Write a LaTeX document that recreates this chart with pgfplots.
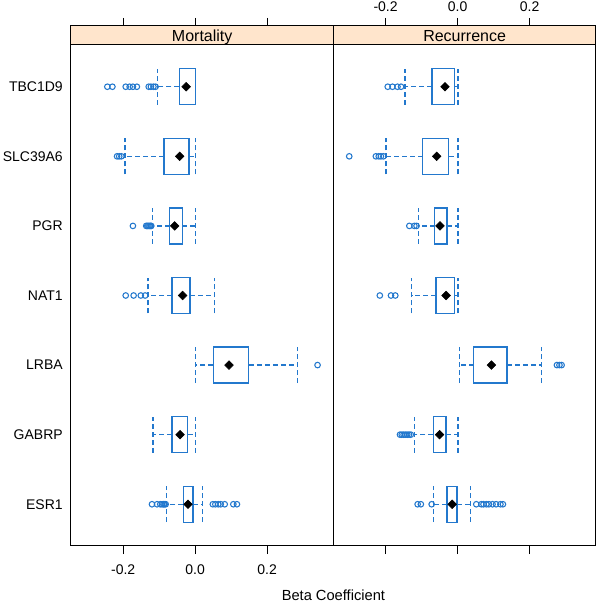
\documentclass[border=0pt]{standalone}
\usepackage{pgfplots}
\pgfplotsset{compat=1.18}
\usepgfplotslibrary{statistics}
\usepackage{fontspec}
\setmainfont{Liberation Sans}
\definecolor{bw}{RGB}{35,120,205}
\definecolor{stripcol}{RGB}{255,229,204}
\pgfplotsset{
  panel/.style={
    scale only axis, width=196.8pt, height=390pt,
    xmin=-0.345, xmax=0.384, ymin=0.4, ymax=7.873,
    axis on top,
    axis line style={line width=0.75pt},
    tick style={black, line width=0.75pt},
    major tick length=6pt, tick align=outside,
    xtick={-0.2,0,0.2}, xticklabels={-0.2,0.0,0.2},
    xtick pos=both,
    ticklabel style={font=\fontsize{10.5}{12}\selectfont},
    boxplot/draw direction=x,
    boxplot/box extend=0.517,
    boxplot/whisker extend=0.517,
    boxplot/draw/median/.code={},
    boxplot/every box/.style={draw=bw, line width=1pt},
    boxplot/every whisker/.style={draw=bw, line width=0.9pt, dash pattern=on 3.75pt off 2.25pt},
  },
  bp/.style={bw, mark=o, mark size=2.1pt, mark options={solid, line width=0.8pt, draw=bw}, line width=0.9pt},
  med/.style={only marks, mark=square*, mark size=2.3pt, mark options={rotate=45, fill=black, draw=black}},
}
\begin{document}
\begin{tikzpicture}
\useasboundingbox (-53.25pt,-43.5pt) rectangle (396.75pt,409.5pt);
% ---------------- Mortality ----------------
\begin{axis}[panel, name=left, at={(0pt,0pt)}, anchor=south west,
  xticklabel pos=lower, xticklabel style={yshift=-4.75pt},
  ytick={1,2,3,4,5,6,7},
  yticklabels={ESR1,GABRP,LRBA,NAT1,PGR,SLC39A6,TBC1D9},
  ytick pos=left, ytick style={draw=none},
  yticklabel style={inner sep=0pt}]
\fill[stripcol] (rel axis cs:0,0.96347) rectangle (rel axis cs:1,1);
\draw[line width=0.75pt] (rel axis cs:0,0.96347) -- (rel axis cs:1,0.96347);
\node[anchor=base, font=\fontsize{12}{14}\selectfont] at (rel axis cs:0.5,0.9711) {Mortality};
% TBC1D9
\addplot[bp, boxplot prepared={lower whisker=-0.105, lower quartile=-0.044, median=-0.025, upper quartile=0.0, upper whisker=0.002, draw position=7}]
  coordinates {(0,-0.244) (0,-0.230) (0,-0.193) (0,-0.182) (0,-0.173) (0,-0.162) (0,-0.129) (0,-0.123) (0,-0.116) (0,-0.110)};
% SLC39A6
\addplot[bp, boxplot prepared={lower whisker=-0.195, lower quartile=-0.087, median=-0.043, upper quartile=-0.017, upper whisker=0.001, draw position=6}]
  coordinates {(0,-0.217) (0,-0.211) (0,-0.205)};
% PGR
\addplot[bp, boxplot prepared={lower whisker=-0.119, lower quartile=-0.071, median=-0.057, upper quartile=-0.036, upper whisker=0.001, draw position=5}]
  coordinates {(0,-0.173) (0,-0.136) (0,-0.133) (0,-0.130) (0,-0.127) (0,-0.124) (0,-0.122)};
% NAT1
\addplot[bp, boxplot prepared={lower whisker=-0.131, lower quartile=-0.064, median=-0.035, upper quartile=-0.014, upper whisker=0.054, draw position=4}]
  coordinates {(0,-0.193) (0,-0.171) (0,-0.151) (0,-0.139)};
% LRBA
\addplot[bp, boxplot prepared={lower whisker=0.001, lower quartile=0.050, median=0.094, upper quartile=0.149, upper whisker=0.284, draw position=3}]
  coordinates {(0,0.340)};
% GABRP
\addplot[bp, boxplot prepared={lower whisker=-0.117, lower quartile=-0.064, median=-0.042, upper quartile=-0.021, upper whisker=0.0, draw position=2}]
  coordinates {};
% ESR1
\addplot[bp, boxplot prepared={lower whisker=-0.079, lower quartile=-0.033, median=-0.020, upper quartile=-0.006, upper whisker=0.020, draw position=1}]
  coordinates {(0,-0.120) (0,-0.106) (0,-0.097) (0,-0.092) (0,-0.088) (0,-0.085) (0,-0.082)
               (0,0.049) (0,0.056) (0,0.064) (0,0.071) (0,0.082) (0,0.106) (0,0.116)};
% medians
\addplot[med] coordinates {(-0.025,7) (-0.043,6) (-0.057,5) (-0.035,4) (0.094,3) (-0.042,2) (-0.020,1)};
\end{axis}
% ---------------- Recurrence ----------------
\begin{axis}[panel, name=right, at={(196.8pt,0pt)}, anchor=south west,
  xticklabel pos=upper, xticklabel style={yshift=1.2pt},
  ytick=\empty]
\fill[stripcol] (rel axis cs:0,0.96347) rectangle (rel axis cs:1,1);
\draw[line width=0.75pt] (rel axis cs:0,0.96347) -- (rel axis cs:1,0.96347);
\node[anchor=base, font=\fontsize{12}{14}\selectfont] at (rel axis cs:0.5,0.9711) {Recurrence};
% TBC1D9
\addplot[bp, boxplot prepared={lower whisker=-0.146, lower quartile=-0.071, median=-0.035, upper quartile=-0.009, upper whisker=0.001, draw position=7}]
  coordinates {(0,-0.194) (0,-0.181) (0,-0.167) (0,-0.157)};
% SLC39A6
\addplot[bp, boxplot prepared={lower whisker=-0.199, lower quartile=-0.097, median=-0.058, upper quartile=-0.025, upper whisker=0.001, draw position=6}]
  coordinates {(0,-0.301) (0,-0.227) (0,-0.219) (0,-0.213) (0,-0.206)};
% PGR
\addplot[bp, boxplot prepared={lower whisker=-0.109, lower quartile=-0.064, median=-0.049, upper quartile=-0.029, upper whisker=0.001, draw position=5}]
  coordinates {(0,-0.134) (0,-0.120) (0,-0.114)};
% NAT1
\addplot[bp, boxplot prepared={lower whisker=-0.128, lower quartile=-0.060, median=-0.032, upper quartile=-0.009, upper whisker=0.001, draw position=4}]
  coordinates {(0,-0.216) (0,-0.185) (0,-0.173)};
% LRBA
\addplot[bp, boxplot prepared={lower whisker=0.005, lower quartile=0.045, median=0.094, upper quartile=0.137, upper whisker=0.234, draw position=3}]
  coordinates {(0,0.276) (0,0.283) (0,0.289)};
% GABRP
\addplot[bp, boxplot prepared={lower whisker=-0.119, lower quartile=-0.067, median=-0.050, upper quartile=-0.032, upper whisker=0.001, draw position=2}]
  coordinates {(0,-0.160) (0,-0.155) (0,-0.150) (0,-0.145) (0,-0.140) (0,-0.135) (0,-0.130)};
% ESR1
\addplot[bp, boxplot prepared={lower whisker=-0.067, lower quartile=-0.029, median=-0.015, upper quartile=-0.002, upper whisker=0.035, draw position=1}]
  coordinates {(0,-0.111) (0,-0.102) (0,-0.072)
               (0,0.052) (0,0.066) (0,0.072) (0,0.080) (0,0.087) (0,0.097) (0,0.107) (0,0.119) (0,0.126)};
% medians
\addplot[med] coordinates {(-0.035,7) (-0.058,6) (-0.049,5) (-0.032,4) (0.094,3) (-0.050,2) (-0.015,1)};
\end{axis}
\node[anchor=base, font=\fontsize{11}{13}\selectfont] at ([yshift=-40.9pt]left.south east) {Beta Coefficient};
\end{tikzpicture}
\end{document}
